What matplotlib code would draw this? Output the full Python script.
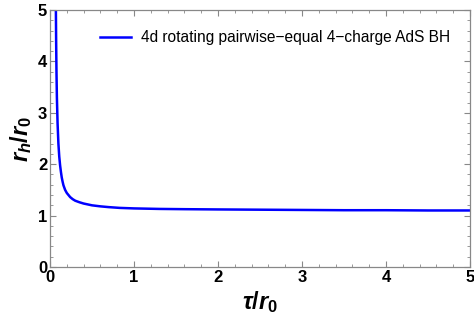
import matplotlib
matplotlib.use('Agg')
import matplotlib.pyplot as plt
from matplotlib.ticker import MultipleLocator

plt.rcParams['font.family'] = ['Liberation Sans', 'DejaVu Sans']
plt.rcParams['mathtext.fontset'] = 'custom'
plt.rcParams['mathtext.it'] = 'Liberation Sans:italic:bold'
plt.rcParams['mathtext.rm'] = 'Liberation Sans:bold'
plt.rcParams['mathtext.bf'] = 'Liberation Sans:bold'

# values
tau = [0.070, 0.073, 0.077, 0.082, 0.09, 0.10, 0.11, 0.12, 0.13, 0.14, 0.15, 0.16,
       0.18, 0.20, 0.22, 0.24, 0.27, 0.30, 0.35, 0.40, 0.50, 0.60, 0.70, 0.83,
       1.0, 1.3, 1.6, 2.0, 2.5, 3.0, 3.5, 4.0, 4.5, 5.0]
rh = [5.0, 4.4, 3.8, 3.3, 2.8, 2.4, 2.15, 1.98, 1.85, 1.74, 1.66, 1.59,
      1.50, 1.44, 1.40, 1.36, 1.32, 1.29, 1.26, 1.235, 1.20, 1.18, 1.165, 1.15,
      1.14, 1.13, 1.125, 1.12, 1.115, 1.11, 1.105, 1.105, 1.10, 1.10]
label = "4d rotating pairwise\u2212equal 4\u2212charge AdS BH"

fig = plt.figure(figsize=(4.74, 3.35), dpi=100)
ax = fig.add_axes([0.1055, 0.203, 0.886, 0.767])
ax.plot(tau, rh, color='#0000ff', lw=1.8, label=label)

ax.set_xlim(0, 5)
ax.set_ylim(0, 5)
ax.xaxis.set_major_locator(MultipleLocator(1))
ax.xaxis.set_minor_locator(MultipleLocator(0.2))
ax.yaxis.set_major_locator(MultipleLocator(1))
ax.yaxis.set_minor_locator(MultipleLocator(0.2))
ax.tick_params(which='both', direction='in', top=True, right=True, color='#888888')
ax.tick_params(which='major', length=4, width=0.8, labelsize=12, pad=2)
ax.tick_params(which='minor', length=2.5, width=0.6)
for lab in ax.get_xticklabels() + ax.get_yticklabels():
    lab.set_fontweight('bold')
for s in ax.spines.values():
    s.set_color('#888888')
    s.set_linewidth(0.9)

ax.set_xlabel(r'$\tau/r_0$', fontsize=17, labelpad=3)
ax.set_ylabel(r'$r_h/r_0$', fontsize=17, labelpad=3)
ax.legend(loc='upper right', frameon=False, fontsize=11.2, handlelength=2.0,
          handletextpad=0.6, borderaxespad=0.9)

fig.savefig('out.png', dpi=100)
